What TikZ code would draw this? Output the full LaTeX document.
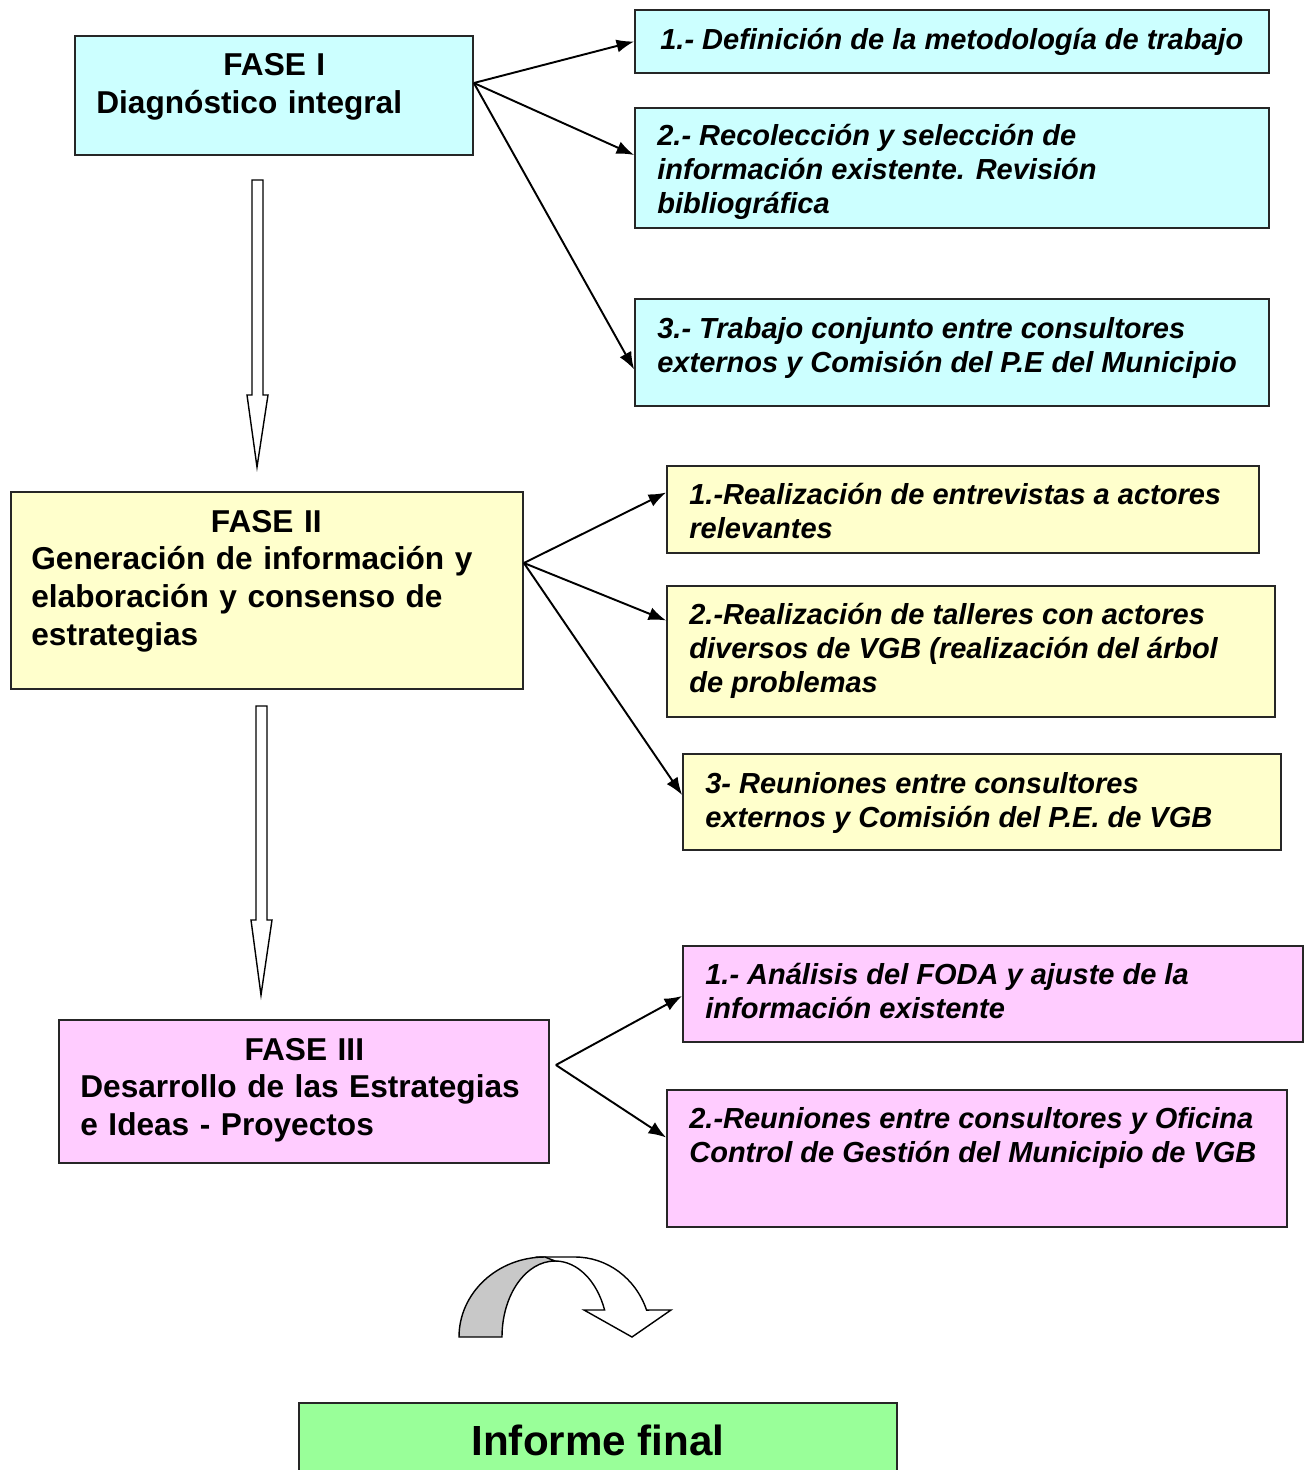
\documentclass[tikz,border=0pt]{standalone}
\usepackage{fontspec}
\setmainfont{Liberation Sans}
\usetikzlibrary{fit,calc,arrows.meta}
\tikzset{>={Latex[length=10pt,width=7.5pt]}}
\definecolor{celeste}{HTML}{CCFFFF}
\definecolor{amarillo}{HTML}{FFFFCC}
\definecolor{rosa}{HTML}{FFCCFF}
\definecolor{verde}{HTML}{99FF99}
\definecolor{gris}{HTML}{C8C8C8}
\tikzset{
  caja/.style={draw=black!85, line width=1pt, inner sep=0pt},
  fase/.style={anchor=base west, inner sep=0pt, align=left, font=\bfseries\fontsize{18}{21.5}\selectfont},
  tarea/.style={anchor=base west, inner sep=0pt, align=left, font=\bfseries\itshape\fontsize{16.5}{19.3}\selectfont},
  flecha/.style={line width=1.1pt, ->},
  bloque/.style={draw, line width=0.8pt, fill=white},
}

\begin{document}
\begin{tikzpicture}[x=0.02cm,y=-0.02cm]
	\clip (0,0) rectangle (1306,1470);

	% FASE I
	\node[caja, fill=celeste, fit={(75,36) (473,155)}] (f1) {};
	\node[fase, text width=7.12cm] (tf1) at (96,76) {{\centering FASE I\par}Diagnóstico integral};
	\node[caja, fill=celeste, fit={(635,10) (1269,73)}] (s11) {};
	\node[tarea] (ts11) at (660,50) {1.- Definición de la metodología de trabajo};
	\node[caja, fill=celeste, fit={(635,108) (1269,228)}] (s12) {};
	\node[tarea] (ts12) at (657,213) {2.- Recolección y selección de\\información existente. Revisión\\bibliográfica};
	\node[caja, fill=celeste, fit={(635,299) (1269,406)}] (s13) {};
	\node[tarea] (ts13) at (657,372) {3.- Trabajo conjunto entre consultores\\externos y Comisión del P.E del Municipio};

	\coordinate (o1) at ($(f1.east)+(0,-12.5)$);
	\draw[flecha] (o1) -- (s11.west);
	\draw[flecha] (o1) -- ($(s12.west)+(0,-13)$);
	\draw[flecha] (o1) -- ($(s13.west)+(0,17)$);

	\draw[bloque] (252,180) -- (263,180) -- (263,395) -- (268,395) -- (257,467) -- (247,395) -- (252,395) -- cycle;

	% FASE II
	\node[caja, fill=amarillo, fit={(11,492) (523,689)}] (f2) {};
	\node[fase, text width=9.4cm] (tf2) at (31,532) {{\centering FASE II\par}Generación de información y\\elaboración y consenso de\\estrategias};
	\node[caja, fill=amarillo, fit={(667,466) (1259,553)}] (s21) {};
	\node[tarea] (ts21) at (689,538) {1.-Realización de entrevistas a actores\\relevantes};
	\node[caja, fill=amarillo, fit={(667,586) (1275,717)}] (s22) {};
	\node[tarea] (ts22) at (689,692) {2.-Realización de talleres con actores\\diversos de VGB (realización del árbol\\de problemas};
	\node[caja, fill=amarillo, fit={(683,754) (1281,850)}] (s23) {};
	\node[tarea] (ts23) at (705,827) {3- Reuniones entre consultores\\externos y Comisión del P.E. de VGB};

	\coordinate (o2) at ($(f2.east)+(0,-27.5)$);
	\draw[flecha] (o2) -- ($(s21.west)+(0,-17)$);
	\draw[flecha] (o2) -- ($(s22.west)+(0,-31)$);
	\draw[flecha] (o2) -- ($(s23.west)+(0,-7)$);

	\draw[bloque] (256,706) -- (267,706) -- (267,920) -- (272,920) -- (261,995) -- (251,920) -- (256,920) -- cycle;

	% FASE III
	\node[caja, fill=rosa, fit={(59,1020) (549,1163)}] (f3) {};
	\node[fase, text width=8.96cm] (tf3) at (80,1060) {{\centering FASE III\par}Desarrollo de las Estrategias\\e Ideas - Proyectos};
	\node[caja, fill=rosa, fit={(683,946) (1303,1042)}] (s31) {};
	\node[tarea] (ts31) at (705,1018) {1.- Análisis del FODA y ajuste de la\\información existente};
	\node[caja, fill=rosa, fit={(667,1090) (1287,1227)}] (s32) {};
	\node[tarea] (ts32) at (689,1162) {2.-Reuniones entre consultores y Oficina\\Control de Gestión del Municipio de VGB};

	\coordinate (o3) at ($(f3.east)+(6,-26.5)$);
	\draw[flecha] (o3) -- ($(s31.west)+(0,2)$);
	\draw[flecha] (o3) -- ($(s32.west)+(0,-21)$);

	% flecha curva
	\draw[bloque] (540,1257) -- (575,1257) arc[start angle=270, end angle=340.3, x radius=76, y radius=80]
		-- (671,1310) -- (632,1337) -- (584,1310) -- (604.6,1310)
		arc[start angle=339.2, end angle=270, x radius=53, y radius=76] -- cycle;
	\draw[bloque, fill=gris] (459,1337) arc[start angle=180, end angle=270, x radius=86, y radius=80]
		-- (555,1261) arc[start angle=270, end angle=180, x radius=53, y radius=76] -- cycle;

	% Informe final
	\node[caja, fill=verde, fit={(299,1403) (897,1490)}] (inf) {};
	\node[inner sep=0pt, anchor=base, font=\bfseries\fontsize{24}{28}\selectfont] (tinf) at (598,1455) {Informe final};
\end{tikzpicture}
\end{document}
